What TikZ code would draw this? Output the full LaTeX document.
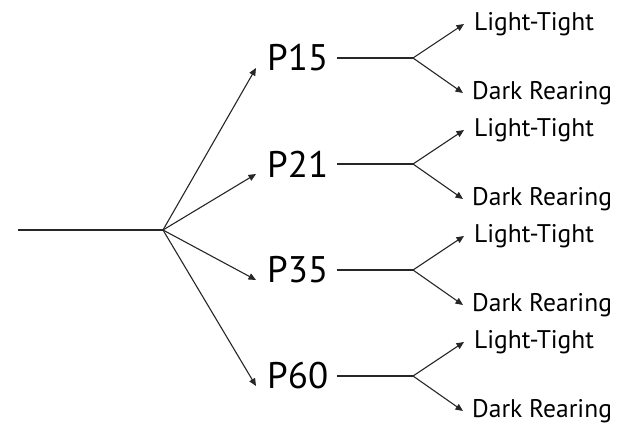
\documentclass[tikz,border=0pt]{standalone}
\usepackage{fontspec}
\setmainfont{PT Sans}
\usetikzlibrary{arrows.meta}
\begin{document}
\begin{tikzpicture}[x=1pt,y=-1pt,
  ln/.style={draw=black!85,line width=1.1pt},
  arr/.style={ln,-{Triangle[length=7.5pt,width=6.5pt]}},
  plabel/.style={anchor=west,inner sep=0pt,font=\fontsize{37}{40}\selectfont},
  sublabel/.style={anchor=west,inner sep=0pt,font=\fontsize{25.5}{28}\selectfont}]
\useasboundingbox (0,0) rectangle (628,433);
\coordinate (start) at (18,230);
\coordinate (hub) at (163,230);
\draw[ln] (start) -- (hub);
\foreach \n/\y in {15/58,21/164,35/270,60/376}{
  \node[plabel] (P\n) at (267,\y) {P\n};
  \coordinate (f\n) at (413,\y);
  \node[sublabel] (L\n) at (474,\y-34) {Light-Tight};
  \node[sublabel] (D\n) at (472,\y+35) {Dark Rearing};
  \draw[arr] (hub) -- ([xshift=-11pt,yshift=-10pt]P\n.west);
  \draw[ln] ([xshift=9pt]P\n.east) -- (f\n);
  \draw[arr] (f\n) -- ([xshift=-10pt]L\n.west);
  \draw[arr] (f\n) -- ([xshift=-9pt]D\n.west);
}
\end{tikzpicture}
\end{document}
